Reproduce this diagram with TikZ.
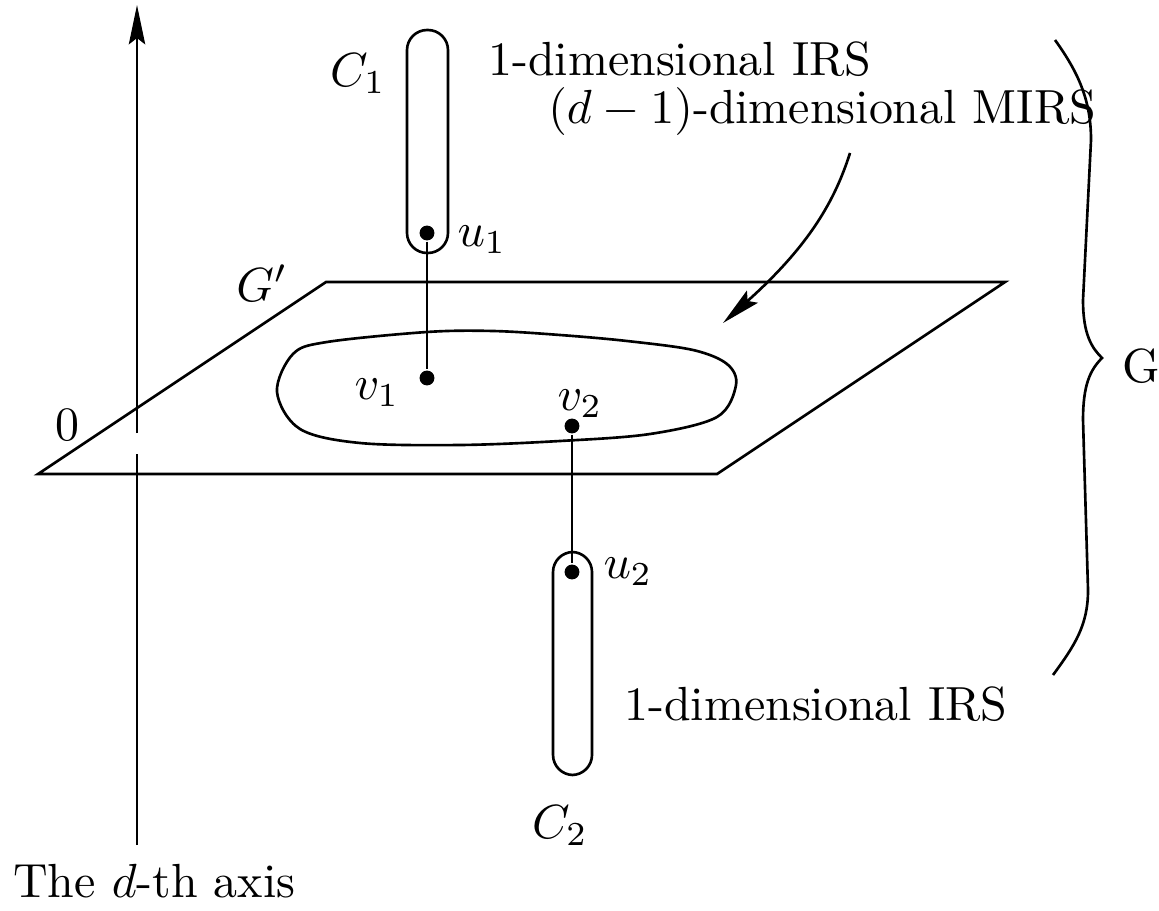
\documentclass[tikz,border=0pt]{standalone}
\usetikzlibrary{arrows.meta}
\begin{document}
\begin{tikzpicture}[x=0.2087pt,y=-0.2087pt,
  line width=0.55pt,
  dot/.style={circle,fill=black,inner sep=0pt,minimum size=3.1pt},
  lbl/.style={inner sep=0pt},
  txt/.style={inner sep=0pt,anchor=base west},
  capsule/.style={draw,rounded corners=4.2pt},
  tip/.style={-{Stealth[length=8.2pt,width=3.4pt,inset=1.3pt]}}]
\useasboundingbox (0,0) rectangle (1159,910);
% axis
\coordinate (axbot) at (137,845);
\coordinate (axtop) at (137,5);
\coordinate (gapA) at (137,454);
\coordinate (gapB) at (137,433);
\draw (axbot) -- (gapA);
\draw[tip] (gapB) -- (axtop);
% plane
\coordinate (p1) at (326,282);
\coordinate (p2) at (1005,282);
\coordinate (p3) at (717,474);
\coordinate (p4) at (38,474);
\draw (p1) -- (p2) -- (p3) -- (p4) -- cycle;
% blob (MIRS)
\draw plot[smooth cycle,tension=0.55] coordinates {
 (277,392) (293,354) (327,342) (427,332) (493,331) (560,335) (627,341)
 (693,350) (727,364) (736,385) (717,417) (650,434) (560,441)
 (460,445) (360,443) (300,429)};
% capsules
\draw[capsule] (407,30) rectangle (448,253);
\draw[capsule] (553,552) rectangle (592,775);
% dots
\node[dot] (u1) at (427,233) {};
\node[dot] (v1) at (427,378) {};
\node[dot] (v2) at (572,426) {};
\node[dot] (u2) at (572,572) {};
\draw (u1) -- (v1);
\draw (v2) -- (u2);
% labels
\node[lbl] (lC1) at (358,74) {$C_1$};
\node[lbl] (lu1) at (482,240) {$u_1$};
\node[lbl] (lGp) at (262,283) {$G'$};
\node[lbl] (lv1) at (377,393) {$v_1$};
\node[lbl] (lv2) at (580,404) {$v_2$};
\node[lbl] (l0) at (67,425) {$0$};
\node[lbl] (lu2) at (628,572) {$u_2$};
\node[lbl] (lC2) at (560,826) {$C_2$};
\node[txt] (t1) at (487,76) {1-dimensional IRS};
\node[txt] (t2) at (547,124) {$(d-1)$-dimensional MIRS};
\node[txt] (t3) at (623,720) {1-dimensional IRS};
\node[txt] (t4) at (12,897) {The $d$-th axis};
\node[lbl] (lG) at (1141,366) {G};
% MIRS arrow
\coordinate (mfrom) at (850,153);
\coordinate (mto) at (723,323);
\draw[tip] (mfrom) .. controls (835,200) and (810,245) .. (mto);
% brace
\coordinate (bt) at (1055,40);
\coordinate (bm) at (1102,358);
\coordinate (bb) at (1053,675);
\draw (bt) .. controls (1078,72) and (1091,100) .. (1091,140)
  -- (1083,300) .. controls (1083,335) and (1092,348) .. (bm)
  .. controls (1090,370) and (1083,385) .. (1083,420)
  -- (1088,590) .. controls (1088,625) and (1075,645) .. (bb);
\end{tikzpicture}
\end{document}
